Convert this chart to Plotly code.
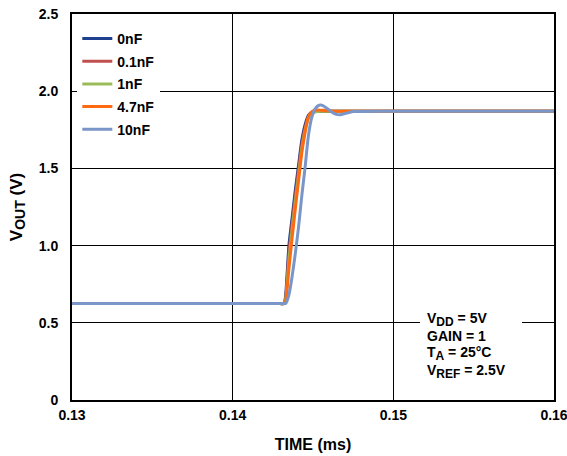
import plotly.graph_objects as go

# time axis (ms)
time_ms = [0.1300, 0.1428, 0.1432, 0.1433, 0.1435, 0.1437, 0.1439, 0.1441, 0.1443, 0.1445,
           0.1447, 0.1449, 0.1451, 0.1453, 0.1455, 0.1458, 0.1461, 0.1464, 0.1467,
           0.1470, 0.1475, 0.1520, 0.1600]

series_names = ["0nF", "0.1nF", "1nF", "4.7nF", "10nF"]
v_0nF = [0.625, 0.625, 0.625, 0.68, 1.00, 1.18, 1.36, 1.52, 1.68, 1.78, 1.84, 1.862, 1.868,
         1.870, 1.870, 1.870, 1.870, 1.870, 1.870, 1.870, 1.870, 1.870, 1.870]
v_01nF = [0.625, 0.625, 0.625, 0.66, 0.95, 1.14, 1.32, 1.49, 1.65, 1.76, 1.83, 1.858, 1.866,
          1.870, 1.870, 1.870, 1.870, 1.870, 1.870, 1.870, 1.870, 1.870, 1.870]
v_1nF = [0.625, 0.625, 0.625, 0.65, 0.90, 1.10, 1.28, 1.45, 1.62, 1.74, 1.82, 1.855, 1.865,
         1.868, 1.870, 1.870, 1.870, 1.870, 1.870, 1.870, 1.870, 1.870, 1.870]
v_47nF = [0.625, 0.625, 0.625, 0.64, 0.85, 1.05, 1.24, 1.42, 1.60, 1.73, 1.83, 1.865, 1.875,
          1.878, 1.877, 1.875, 1.872, 1.870, 1.870, 1.870, 1.870, 1.870, 1.870]
v_10nF = [0.625, 0.625, 0.625, 0.625, 0.68, 0.80, 0.95, 1.12, 1.32, 1.50, 1.70, 1.82, 1.88,
          1.905, 1.910, 1.895, 1.870, 1.852, 1.848, 1.855, 1.868, 1.870, 1.870]

colors = ["#1f3f8f", "#c0504d", "#9bbb59", "#ff6a10", "#7a96c8"]
all_values = [v_0nF, v_01nF, v_1nF, v_47nF, v_10nF]

x_ticks = [0.13, 0.14, 0.15, 0.16]
x_tick_text = ["0.13", "0.14", "0.15", "0.16"]
y_ticks = [0, 0.5, 1.0, 1.5, 2.0, 2.5]
y_tick_text = ["0", "0.5", "1.0", "1.5", "2.0", "2.5"]

note_lines = [
    "V<sub><span style='font-size:12px'>DD</span></sub> = 5V",
    "GAIN = 1",
    "T<sub><span style='font-size:12px'>A</span></sub> = 25°C",
    "V<sub><span style='font-size:12px'>REF</span></sub> = 2.5V",
]
note_y = [0.2073, 0.1658, 0.1192, 0.0751]

font_family = "Liberation Sans, Arial, sans-serif"

fig = go.Figure()
for name, vals, col in zip(series_names, all_values, colors):
    fig.add_trace(go.Scatter(x=time_ms, y=vals, name=name, mode="lines",
                             line=dict(color=col, width=3, shape="spline", smoothing=0.5),
                             legendgroup=name))

fig.update_layout(
    width=567, height=456,
    margin=dict(l=72, r=13, t=14, b=56, autoexpand=False),
    paper_bgcolor="white", plot_bgcolor="white",
    font=dict(family=font_family, size=14, color="black"),
    showlegend=True,
    legend=dict(x=0.011, y=0.977, xanchor="left", yanchor="top",
                bgcolor="white", borderwidth=0, tracegroupgap=1.5,
                font=dict(family=font_family, size=14, color="black", weight="bold")),
    xaxis=dict(range=[0.13, 0.16], tickvals=x_ticks, ticktext=x_tick_text,
               showgrid=True, gridcolor="black", gridwidth=1,
               showline=True, linecolor="black", linewidth=2, mirror=True,
               ticks="", zeroline=False, ticklabelstandoff=1, ticklabeloverflow="allow",
               tickfont=dict(family=font_family, size=14, color="black", weight="bold"),
               title=dict(text="TIME (ms)", standoff=17,
                          font=dict(family=font_family, size=16, color="black", weight="bold"))),
    yaxis=dict(range=[0, 2.5], tickvals=y_ticks, ticktext=y_tick_text,
               showgrid=True, gridcolor="black", gridwidth=1,
               showline=True, linecolor="black", linewidth=2, mirror=True,
               ticks="", zeroline=False, ticklabelstandoff=9, ticklabeloverflow="allow",
               tickfont=dict(family=font_family, size=14, color="black", weight="bold"),
               title=dict(text="V<sub><span style='font-size:14px'>OUT</span></sub> (V)", standoff=12,
                          font=dict(family=font_family, size=17, color="black", weight="bold"))),
)

# white box behind the conditions note (hides the gridline)
fig.add_shape(type="rect", xref="paper", yref="paper", x0=0.722, x1=0.9336, y0=0.057, y1=0.233,
              fillcolor="white", line=dict(width=0), layer="above")

for txt, yy in zip(note_lines, note_y):
    fig.add_annotation(
        xref="paper", yref="paper", x=0.7344, y=yy, xanchor="left", yanchor="middle",
        text=txt, align="left", showarrow=False, borderpad=0,
        font=dict(family=font_family, size=14, color="black", weight="bold"),
    )

# remove the default page margin so the figure fills the window exactly
fig.write_html("out.html", config={"displayModeBar": False},
               post_script="document.body.style.margin='0';")
